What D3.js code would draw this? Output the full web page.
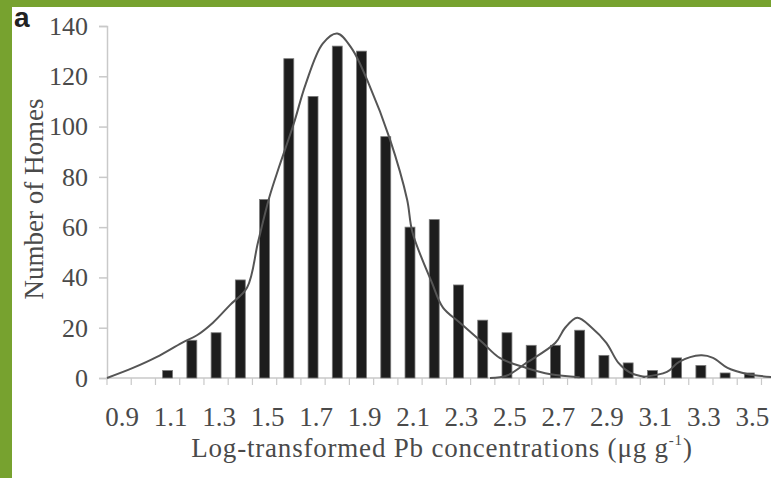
<!DOCTYPE html>
<html>
<head>
<meta charset="utf-8">
<script src="https://cdn.jsdelivr.net/npm/d3@7"></script>
<style>
  html, body { margin: 0; padding: 0; background: #fff; }
  svg { display: block; }
  text { font-family: "Liberation Serif", "Times New Roman", serif; }
</style>
</head>
<body>
<svg id="chart" width="771" height="478"></svg>
<script>
// Histogram of log-transformed Pb concentrations (bin centres)
const categories = [0.9, 1.0, 1.1, 1.2, 1.3, 1.4, 1.5, 1.6, 1.7, 1.8, 1.9, 2.0, 2.1, 2.2,
                    2.3, 2.4, 2.5, 2.6, 2.7, 2.8, 2.9, 3.0, 3.1, 3.2, 3.3, 3.4, 3.5];
const homes = [0, 0, 3, 15, 18, 39, 71, 127, 112, 132, 130, 96, 60, 63,
               37, 23, 18, 13, 13, 19, 9, 6, 3, 8, 5, 2, 2];

// Fitted distribution components (x = log concentration, y = number of homes)
const fitMainX = [0.85, 0.957, 1.056, 1.159, 1.221, 1.287, 1.357, 1.428, 1.473, 1.52, 1.56,
                  1.62, 1.67, 1.74, 1.80, 1.86, 1.93, 2.017, 2.088, 2.11, 2.19, 2.236,
                  2.306, 2.40, 2.47, 2.58, 2.68, 2.80];
const fitMainY = [0, 4, 8.4, 14, 17, 22, 29, 36, 54, 72, 84,
                  101, 117, 133, 137, 131, 117, 95, 71, 58, 38, 28,
                  22, 14, 8, 4, 1.5, 0.3];
const fitSecondX = [2.43, 2.50, 2.58, 2.70, 2.74, 2.79, 2.85, 2.91, 2.96, 3.01, 3.07];
const fitSecondY = [0, 1, 6, 14, 20, 24, 20, 14, 6, 2, 0.4];
const fitThirdX = [3.06, 3.16, 3.21, 3.30, 3.35, 3.41, 3.49, 3.59];
const fitThirdY = [0.4, 2.4, 6.4, 9, 8, 4, 1.6, 0.4];

const yTicks = [0, 20, 40, 60, 80, 100, 120, 140];
const xLabelValues = [0.9, 1.1, 1.3, 1.5, 1.7, 1.9, 2.1, 2.3, 2.5, 2.7, 2.9, 3.1, 3.3, 3.5];

const W = 771, H = 478;
const plotLeft = 107, plotTop = 26, plotBottom = 378;
const binW = 24.24;
const binStep = 0.1;

const svg = d3.select("#chart");

// frame strips
const frameGreen = "#77a22f";
svg.append("rect").attr("x", 0).attr("y", 0).attr("width", W).attr("height", 7).attr("fill", frameGreen);
svg.append("rect").attr("x", 0).attr("y", 0).attr("width", 12).attr("height", H).attr("fill", frameGreen);

const x = d3.scaleBand()
  .domain(categories)
  .range([plotLeft, plotLeft + categories.length * binW])
  .paddingInner(0).paddingOuter(0);

// continuous scale aligned with the bins, used for the fitted curve and bin edges
const xLin = d3.scaleLinear()
  .domain([categories[0] - binStep / 2, categories[categories.length - 1] + binStep / 2])
  .range(x.range());

const y = d3.scaleLinear().domain([0, 140]).range([plotBottom, plotTop]);

const axisGrey = "#c9c9c9";
const labelGrey = "#4a4a4a";

// y axis
const yAxis = svg.append("g")
  .attr("transform", `translate(${plotLeft},0)`)
  .call(d3.axisLeft(y).tickValues(yTicks).tickSize(8).tickPadding(11).tickFormat(d3.format("d")));
yAxis.select(".domain").attr("stroke", axisGrey).attr("stroke-width", 1.5);
yAxis.selectAll(".tick line").attr("stroke", axisGrey).attr("stroke-width", 1.5);
yAxis.selectAll(".tick text")
  .attr("fill", labelGrey)
  .style("font-family", "'Liberation Serif', serif")
  .style("font-size", "26px");

// x axis line and bin-edge ticks
svg.append("line")
  .attr("x1", plotLeft).attr("x2", W)
  .attr("y1", plotBottom).attr("y2", plotBottom)
  .attr("stroke", axisGrey).attr("stroke-width", 1.5);

const edges = categories.map(c => c - binStep / 2).concat([categories[categories.length - 1] + binStep / 2]);
svg.append("g").selectAll("line")
  .data(edges)
  .join("line")
  .attr("x1", d => xLin(d)).attr("x2", d => xLin(d))
  .attr("y1", plotBottom).attr("y2", plotBottom + 7)
  .attr("stroke", axisGrey).attr("stroke-width", 1.2);

svg.append("g").selectAll("text")
  .data(xLabelValues)
  .join("text")
  .attr("x", d => x(categories.find(c => Math.abs(c - d) < 1e-9)) + x.bandwidth() / 2 + 3)
  .attr("y", 426)
  .attr("text-anchor", "middle")
  .attr("fill", labelGrey)
  .style("font-size", "27px")
  .text(d => d.toFixed(1));

// bars
const barW = x.bandwidth() * 0.41;
svg.append("g").selectAll("rect")
  .data(categories.map((c, i) => ({ c, v: homes[i] })))
  .join("rect")
  .attr("x", d => x(d.c) + x.bandwidth() / 2 - barW / 2)
  .attr("y", d => y(d.v))
  .attr("width", barW)
  .attr("height", d => y(0) - y(d.v))
  .attr("fill", "#1d1d1d")
  .attr("stroke", "#7a7a7a")
  .attr("stroke-width", 0.8);

// fitted curves
const line = d3.line()
  .x(d => xLin(d[0]))
  .y(d => y(d[1]))
  .curve(d3.curveCatmullRom.alpha(0.5));

[[fitMainX, fitMainY], [fitSecondX, fitSecondY], [fitThirdX, fitThirdY]].forEach(([xs, ys]) => {
  svg.append("path")
    .datum(xs.map((v, i) => [v, ys[i]]))
    .attr("d", line)
    .attr("fill", "none")
    .attr("stroke", "#555")
    .attr("stroke-width", 2);
});

// axis titles
svg.append("text")
  .attr("transform", `translate(43,199) rotate(-90)`)
  .attr("text-anchor", "middle")
  .attr("fill", labelGrey)
  .style("font-size", "27px")
  .text("Number of Homes");

const xt = svg.append("text")
  .attr("x", 442)
  .attr("y", 457)
  .attr("text-anchor", "middle")
  .attr("fill", labelGrey)
  .style("font-size", "27px")
  .style("letter-spacing", "0.8px");
xt.append("tspan").text("Log-transformed Pb concentrations (μg g");
xt.append("tspan").attr("dy", -12).attr("font-size", "15px").text("-1");
xt.append("tspan").attr("dy", 12).text(")");

// panel letter
svg.append("text")
  .attr("x", 14)
  .attr("y", 27)
  .attr("fill", "#222")
  .style("font-family", "'Liberation Sans', Arial, sans-serif")
  .style("font-weight", "bold")
  .style("font-size", "28px")
  .text("a");
</script>
</body>
</html>
